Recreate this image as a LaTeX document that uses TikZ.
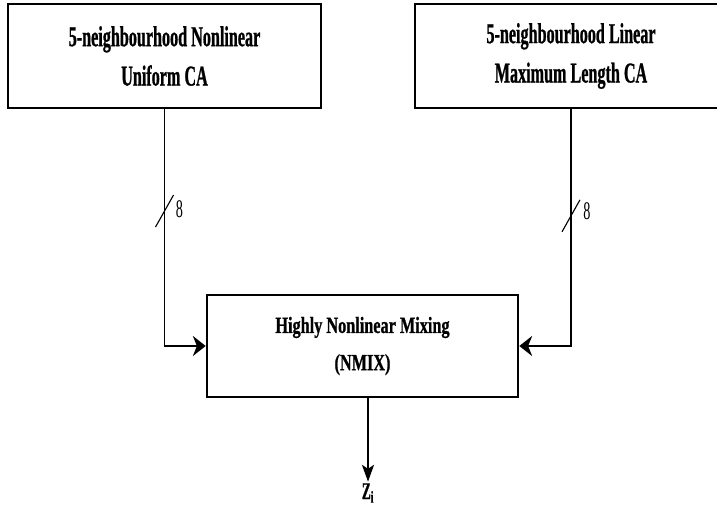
\documentclass[tikz,border=0pt]{standalone}
\usepackage{fontspec}
\setmainfont{Liberation Serif}[FakeStretch=0.56,BoldFeatures={FakeBold=0.8}]
\newfontfamily\mixfont{Liberation Serif}[FakeStretch=0.7,BoldFeatures={FakeBold=0.8}]
\usetikzlibrary{arrows.meta,calc}
\def\busmark{++(-9,16) -- ++(18,-32)}
\tikzset{
  block/.style={draw,line width=1.8pt,align=center,inner sep=2pt},
  bigtext/.style={font=\bfseries\fontsize{20.5}{28}\selectfont},
  wire/.style={line width=1.4pt},
  feed/.style={wire,-{Stealth[length=0.32cm,width=0.5cm,inset=0.1cm]}},
  outfeed/.style={wire,-{Stealth[length=0.42cm,width=0.3cm,inset=0.1cm]}},
  buswidth/.style={font=\fontsize{18}{20}\selectfont,inner sep=1pt},
}

\begin{document}
\begin{tikzpicture}[x=0.025cm,y=-0.025cm]
    \useasboundingbox (0,0) rectangle (717,512);
    % the two automata
    \node[block,bigtext,minimum width=7.825cm,minimum height=2.6cm] (nuca) at (164.5,56)
        {5-neighbourhood Nonlinear\\Uniform CA};
    \node[block,bigtext,minimum width=7.8cm,minimum height=2.6cm] (lmca) at (571,56)
        {5-neighbourhood Linear\\Maximum Length CA};
    % mixing block
    \node[block,font=\mixfont\bfseries\fontsize{16.5}{26.5}\selectfont,minimum width=7.775cm,minimum height=2.55cm] (nmix) at (362.5,346)
        {Highly Nonlinear Mixing\\(NMIX)};
    \node[font=\bfseries\fontsize{17}{20}\selectfont,inner sep=1pt] (zout) at (368,493) {Z\textsubscript{i}};
    % connectors
    \draw[feed] (nuca.south) |- (nmix.west);
    \draw[feed] (lmca.south) |- (nmix.east);
    \draw[outfeed] (nmix.south -| zout) -- (zout.north);
    % bus widths
    \coordinate (busa) at ($(nuca.south)!0.43!(nuca.south |- nmix.west)$);
    \coordinate (busb) at ($(lmca.south)!0.45!(lmca.south |- nmix.east)$);
    \draw[line width=0.8pt] (busa) \busmark;
    \draw[line width=0.8pt] (busb) \busmark;
    \node[buswidth] (wa) at ($(busa)+(15,-2)$) {8};
    \node[buswidth] (wb) at ($(busb)+(16,-5)$) {8};
\end{tikzpicture}
\end{document}
